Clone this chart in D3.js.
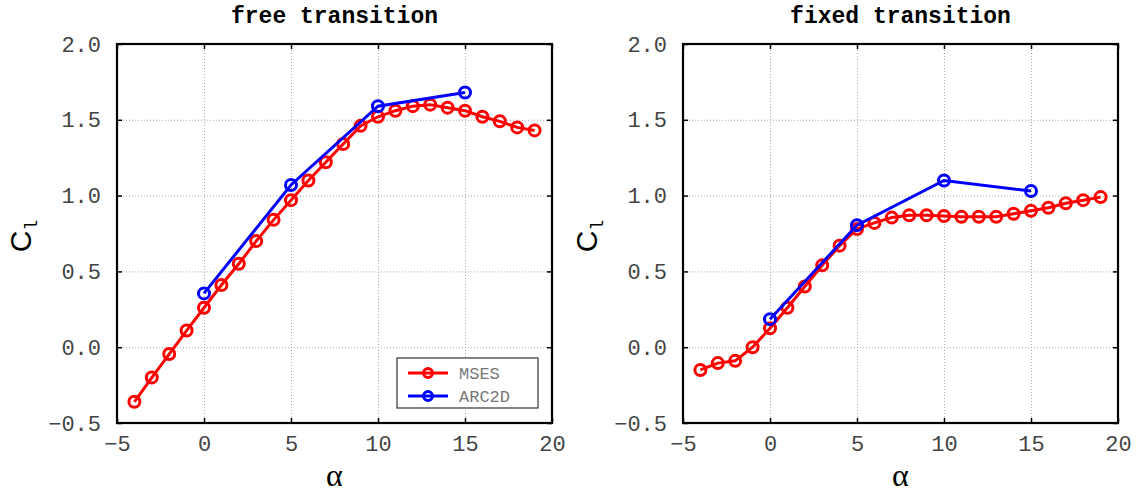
<!DOCTYPE html>
<html>
<head>
<meta charset="utf-8">
<script src="https://cdn.jsdelivr.net/npm/d3@7"></script>
<style>
  body { margin: 0; background: #fff; }
  svg { display: block; }
  .tick text { font-family: "Liberation Mono", "DejaVu Sans Mono", monospace; fill: #444; }
</style>
</head>
<body>
<div id="chart"></div>
<script>
// angle of attack for each data set
var alphaMses = [-4, -3, -2, -1, 0, 1, 2, 3, 4, 5, 6, 7, 8, 9, 10, 11, 12, 13, 14, 15, 16, 17, 18, 19];
var alphaArc = [0, 5, 10, 15];

// lift coefficient, free transition
var freeMses = [-0.36, -0.20, -0.045, 0.11, 0.26, 0.41, 0.55, 0.70, 0.84, 0.97, 1.10, 1.22, 1.34, 1.46, 1.52, 1.56, 1.59, 1.60, 1.58, 1.56, 1.52, 1.49, 1.45, 1.43];
var freeArc = [0.355, 1.07, 1.59, 1.68];

// lift coefficient, fixed transition
var fixedMses = [-0.15, -0.105, -0.09, 0.0, 0.125, 0.26, 0.40, 0.54, 0.67, 0.78, 0.82, 0.855, 0.87, 0.87, 0.865, 0.86, 0.86, 0.86, 0.88, 0.90, 0.92, 0.95, 0.97, 0.99];
var fixedArc = [0.185, 0.805, 1.10, 1.03];

var xTicks = [-5, 0, 5, 10, 15, 20];
var yTicks = [-0.5, 0, 0.5, 1, 1.5, 2];
var seriesNames = ['MSES', 'ARC2D'];
var colors = ['#ff0000', '#0000ff'];

var width = 1136;
var height = 492;
var plotTop = 44;
var plotBottom = 423;

var svg = d3.select('#chart')
  .append('svg')
  .attr('width', width)
  .attr('height', height);

function drawPanel (left, right, title, mses, arc, showLegend) {
  var x = d3.scaleLinear().domain([-5, 20]).range([left, right]);
  var y = d3.scaleLinear().domain([-0.5, 2]).range([plotBottom, plotTop]);
  var g = svg.append('g');

  // dotted grid
  g.append('g')
    .attr('transform', 'translate(0,' + plotBottom + ')')
    .call(d3.axisBottom(x).tickValues(xTicks.slice(1, -1)).tickSize(-(plotBottom - plotTop)).tickFormat(''))
    .call(function (s) {
      s.select('.domain').remove();
      s.selectAll('line').attr('class', 'grid').attr('stroke', '#aaa').attr('stroke-dasharray', '1,2');
    });
  g.append('g')
    .attr('transform', 'translate(' + left + ',0)')
    .call(d3.axisLeft(y).tickValues(yTicks.slice(1, -1)).tickSize(-(right - left)).tickFormat(''))
    .call(function (s) {
      s.select('.domain').remove();
      s.selectAll('line').attr('class', 'grid').attr('stroke', '#aaa').attr('stroke-dasharray', '1,2');
    });

  // axes with inward ticks
  var xAxis = g.append('g')
    .attr('transform', 'translate(0,' + plotBottom + ')')
    .call(d3.axisBottom(x).tickValues(xTicks).tickSize(-5).tickPadding(12)
      .tickFormat(function (d) { return d < 0 ? '\u2212' + Math.abs(d) : d; }));
  var yAxis = g.append('g')
    .attr('transform', 'translate(' + left + ',0)')
    .call(d3.axisLeft(y).tickValues(yTicks).tickSize(-5).tickPadding(16)
      .tickFormat(function (d) { return (d < 0 ? '\u2212' : '') + Math.abs(d).toFixed(1); }));
  g.append('g')
    .attr('transform', 'translate(0,' + plotTop + ')')
    .call(d3.axisTop(x).tickValues(xTicks).tickSize(-5).tickFormat(''));
  g.append('g')
    .attr('transform', 'translate(' + right + ',0)')
    .call(d3.axisRight(y).tickValues(yTicks).tickSize(-5).tickFormat(''));
  g.selectAll('.domain').remove();
  g.selectAll('.tick line:not(.grid)')
    .attr('stroke', '#000').attr('stroke-width', 1.5);
  xAxis.selectAll('text').style('font-size', '22px');
  yAxis.selectAll('text').style('font-size', '22px');

  g.append('rect')
    .attr('x', left).attr('y', plotTop)
    .attr('width', right - left).attr('height', plotBottom - plotTop)
    .attr('fill', 'none').attr('stroke', '#000').attr('stroke-width', 2.2);

  var line = d3.line()
    .x(function (d) { return x(d[0]); })
    .y(function (d) { return y(d[1]); });

  [d3.zip(alphaMses, mses), d3.zip(alphaArc, arc)].forEach(function (pts, i) {
    g.append('path')
      .attr('d', line(pts))
      .attr('fill', 'none')
      .attr('stroke', colors[i])
      .attr('stroke-width', 3);
    g.selectAll(null)
      .data(pts)
      .enter()
      .append('circle')
      .attr('cx', function (d) { return x(d[0]); })
      .attr('cy', function (d) { return y(d[1]); })
      .attr('r', 5.5)
      .attr('fill', 'none')
      .attr('stroke', colors[i])
      .attr('stroke-width', 3);
  });

  // title
  g.append('text')
    .attr('x', (left + right) / 2)
    .attr('y', 23)
    .attr('text-anchor', 'middle')
    .style('font-family', '"Liberation Mono", monospace')
    .style('font-weight', 'bold')
    .style('font-size', '23px')
    .text(title);

  // axis labels
  g.append('text')
    .attr('x', (left + right) / 2)
    .attr('y', 486)
    .attr('text-anchor', 'middle')
    .style('font-family', '"Liberation Serif", serif')
    .style('font-size', '32px')
    .text('\u03b1');

  var yl = g.append('text')
    .attr('transform', 'translate(' + (left - 86) + ',236) rotate(-90)')
    .attr('text-anchor', 'middle')
    .style('font-family', '"Liberation Sans", sans-serif')
    .style('font-size', '30px');
  yl.append('tspan').text('C');
  yl.append('tspan')
    .attr('dy', 6)
    .style('font-family', '"Liberation Mono", monospace')
    .style('font-size', '18px')
    .text('l');

  if (showLegend) {
    var lx = 397, ly = 358, lw = 141, lh = 50;
    var leg = g.append('g');
    leg.append('rect')
      .attr('x', lx).attr('y', ly).attr('width', lw).attr('height', lh)
      .attr('fill', '#fff').attr('stroke', '#333').attr('stroke-width', 1.2);
    seriesNames.forEach(function (name, i) {
      var cy = ly + 15 + i * 23;
      leg.append('line')
        .attr('x1', lx + 11).attr('x2', lx + 51)
        .attr('y1', cy).attr('y2', cy)
        .attr('stroke', colors[i]).attr('stroke-width', 3);
      leg.append('circle')
        .attr('cx', lx + 31).attr('cy', cy).attr('r', 4.5)
        .attr('fill', 'none').attr('stroke', colors[i]).attr('stroke-width', 3);
      leg.append('text')
        .attr('x', lx + 62).attr('y', cy + 6)
        .style('font-family', '"Liberation Mono", monospace')
        .style('font-size', '17px')
        .attr('fill', '#777')
        .text(name);
    });
  }
}

drawPanel(117, 552, 'free transition', freeMses, freeArc, true);
drawPanel(683, 1118, 'fixed transition', fixedMses, fixedArc, false);
</script>
</body>
</html>
